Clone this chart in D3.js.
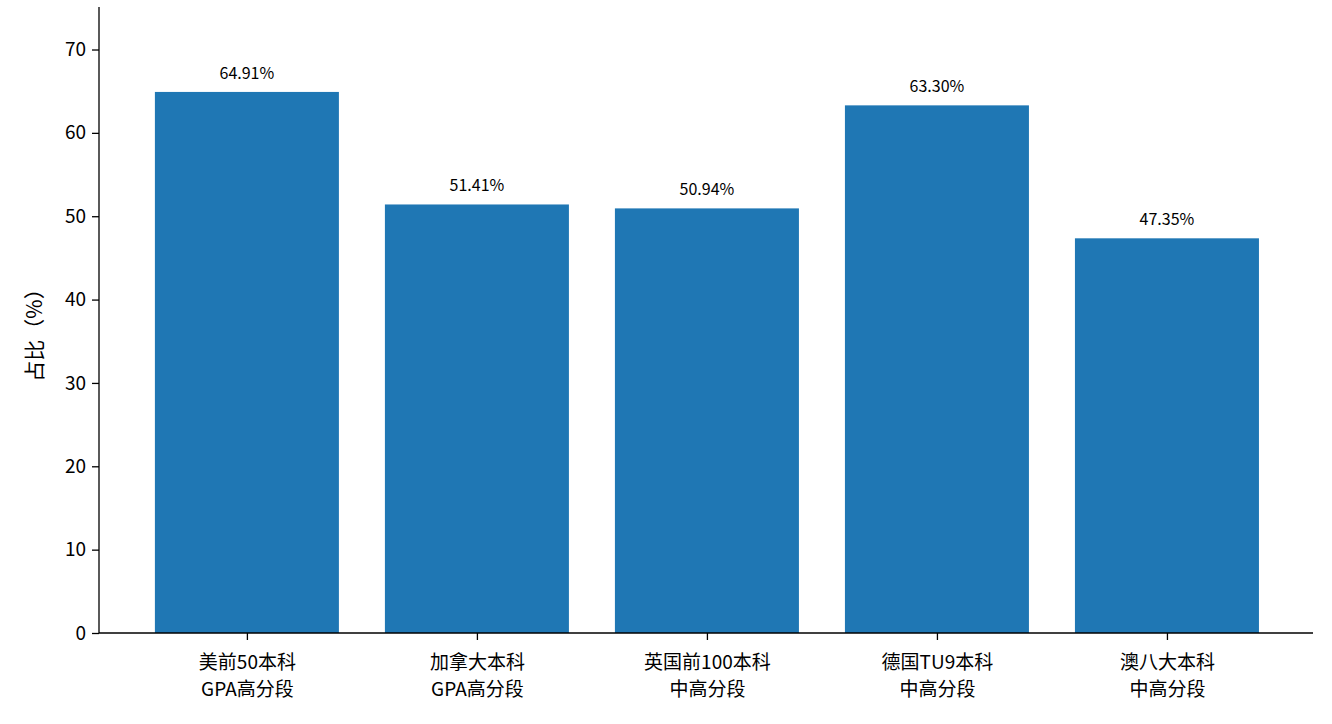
<!DOCTYPE html>
<html><head><meta charset="utf-8">
<script src="https://cdn.jsdelivr.net/npm/d3@7"></script>
<style>body{margin:0;background:#fff}text{font-family:"Noto Sans CJK SC","Noto Sans",sans-serif}</style>
</head><body>
<svg id="c" width="1332" height="724"></svg>
<script>
const categories = [["美前50本科","GPA高分段"],["加拿大本科","GPA高分段"],["英国前100本科","中高分段"],["德国TU9本科","中高分段"],["澳八大本科","中高分段"]];
const values = [64.91, 51.41, 50.94, 63.30, 47.35];
const yTicks = [0,10,20,30,40,50,60,70];

const svg = d3.select("#c");
const x = d3.scaleLinear().domain([-0.643, 4.635]).range([99, 1313]);
const y = d3.scaleLinear().domain([0, 75.1]).range([633, 7]);
const bw = 0.8;

svg.selectAll("rect").data(values).join("rect")
  .attr("x", (d,i)=>x(i-bw/2)).attr("width", x(bw)-x(0))
  .attr("y", d=>y(d)).attr("height", d=>y(0)-y(d)).attr("fill","#1f77b4");

svg.selectAll(".vl").data(values).join("text").attr("class","vl")
  .attr("x",(d,i)=>x(i)).attr("y",d=>y(d)-13).attr("text-anchor","middle")
  .attr("font-size",16).attr("fill","#000").text(d=>d.toFixed(2)+"%");

const ya = svg.append("g").attr("transform","translate(99,0)")
  .call(d3.axisLeft(y).tickValues(yTicks).tickSize(7).tickPadding(6));
ya.selectAll("text").attr("font-size",19).attr("fill","#000");
ya.select(".domain").attr("d","M0,7V633");

const xa = svg.append("g").attr("transform","translate(0,633)")
  .call(d3.axisBottom(x).tickValues([0,1,2,3,4]).tickSize(7).tickFormat(""));
xa.select(".domain").attr("d","M99,0H1313");
xa.selectAll(".tick").each(function(d){
  const t = d3.select(this).append("text").attr("fill","#000").attr("font-size",19).attr("text-anchor","middle");
  categories[d].forEach((s,k)=>t.append("tspan").attr("x",0).attr("y",36+k*27).text(s));
});
svg.selectAll(".domain,.tick line").attr("stroke","#000").attr("stroke-width",1.3);

svg.append("text").attr("transform","translate(42,330) rotate(-90)").attr("text-anchor","middle")
  .attr("font-size",21).attr("fill","#000").text("占比（%）");
</script></body></html>
